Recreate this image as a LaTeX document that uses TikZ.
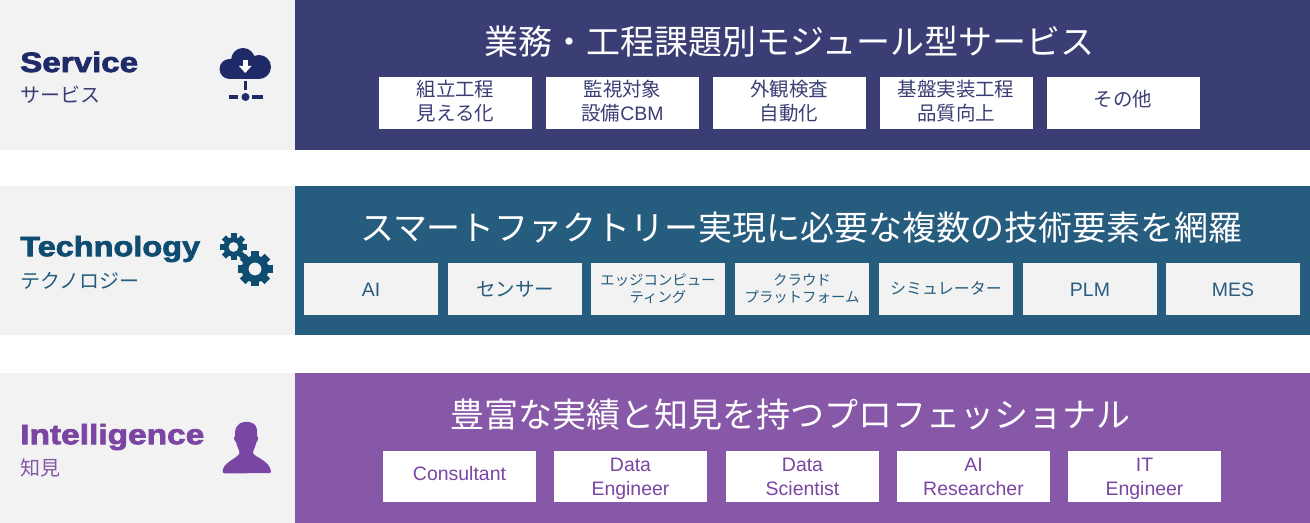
\documentclass[tikz,border=0pt]{standalone}
\usepackage{fontspec}
\setmainfont{Liberation Sans}
\newfontfamily\jp{Noto Sans CJK JP}
\newfontfamily\latin{Liberation Sans}
\newfontfamily\headfont[FakeStretch=1.16,FakeBold=2.6]{Liberation Sans Bold}
\definecolor{panelgray}{HTML}{F2F2F2}
\definecolor{svcpanel}{HTML}{3A3E74}
\definecolor{svcdark}{HTML}{1F2A68}
\definecolor{techpanel}{HTML}{265C7E}
\definecolor{techdark}{HTML}{0F4C72}
\definecolor{intpanel}{HTML}{8757A8}
\definecolor{intdark}{HTML}{7B45A3}
\begin{document}
\begin{tikzpicture}[x=0.75pt,y=-0.75pt]
\tikzstyle{side}=[rectangle,fill=panelgray,minimum width=221.25pt,inner sep=0pt,anchor=north west]
\tikzstyle{panel}=[rectangle,minimum width=761.25pt,inner sep=0pt,anchor=north west]
\tikzstyle{cell}=[rectangle,fill=white,minimum width=114.75pt,minimum height=39pt,inner sep=0pt,align=center,font=\jp\fontsize{14.6}{18}\selectfont]
\tikzstyle{scell}=[cell,text=svcpanel,text height=28pt,text depth=2pt]
\tikzstyle{tcell}=[cell,fill=panelgray,minimum width=100.5pt,text=techpanel]
\tikzstyle{tlatin}=[tcell,font=\latin\fontsize{14.6}{18}\selectfont,text height=11.5pt,text depth=0pt]
\tikzstyle{tiny}=[tcell,font=\jp\fontsize{10.8}{13}\selectfont]
\tikzstyle{icell}=[cell,text=intdark,minimum height=38.25pt,font=\latin\fontsize{14.6}{18}\selectfont,text height=29.25pt,text depth=0pt]
\tikzstyle{title}=[text=white,inner sep=0pt,font=\jp\fontsize{25.5}{30}\selectfont]
\tikzstyle{head}=[anchor=west,inner sep=0pt,font=\headfont\fontsize{21}{25}\selectfont]
\tikzstyle{sub}=[anchor=west,inner sep=0pt,font=\jp\fontsize{15}{18}\selectfont]
\useasboundingbox (0,0) rectangle (1310,523);
\node[side,minimum height=112.5pt] (s0) at (0,0) {};
\node[panel,minimum height=112.5pt,fill=svcpanel] (s) at (295,0) {};
\node[side,minimum height=111.75pt] (t0) at (0,186) {};
\node[panel,minimum height=111.75pt,fill=techpanel] (t) at (295,186) {};
\node[side,minimum height=112.5pt] (i0) at (0,373) {};
\node[panel,minimum height=112.5pt,fill=intpanel] (i) at (295,373) {};
\node[head,text=svcdark] (shead) at (20,62) {\scalebox{1.02}[1]{Service}};
\node[sub,text=svcpanel] (ssub) at (20,95) {サービス};
\node[head,text=techdark] (thead) at (20,249) {Technology};
\node[sub,text=techpanel] (tsub) at (20,281) {テクノロジー};
\node[head,text=intdark] (ihead) at (20,437) {\scalebox{1.03}[1]{Intelligence}};
\node[sub,text=intpanel] (isub) at (20,468) {知見};
\node[title] (stitle) at (789.5,42) {業務・工程課題別モジュール型サービス};
\node[title] (ttitle) at (801.5,228) {スマートファクトリー実現に必要な複数の技術要素を網羅};
\node[title] (ititle) at (790,415) {豊富な実績と知見を持つプロフェッショナル};
\node[scell] (s1) at (455.5,103) {組立工程\\見える化};
\node[scell] (s2) at (622.5,103) {監視対象\\設備{\latin CBM}};
\node[scell] (s3) at (789,103) {外観検査\\自動化};
\node[scell] (s4) at (956,103) {基盤実装工程\\品質向上};
\node[scell,text height=12pt,text depth=7pt] (s5) at (1123,103) {その他};
\node[tlatin] (t1) at (371,289) {AI};
\node[tcell] (t2) at (515,289) {センサー};
\node[tiny] (t3) at (658,289) {エッジコンピュー\\ティング};
\node[tiny] (t4) at (802,289) {クラウド\\プラットフォーム};
\node[tiny,font=\jp\fontsize{12}{14}\selectfont,text height=10pt,text depth=2.4pt] (t5) at (946,289) {シミュレーター};
\node[tlatin] (t6) at (1090,289) {PLM};
\node[tlatin] (t7) at (1233,289) {MES};
\node[icell,text height=11.5pt,text depth=5.25pt] (i1) at (459.5,476.5) {Consultant};
\node[icell] (i2) at (630.5,476.5) {Data\\Engineer};
\node[icell] (i3) at (802.5,476.5) {Data\\Scientist};
\node[icell] (i4) at (973.5,476.5) {AI\\Researcher};
\node[icell] (i5) at (1144.5,476.5) {IT\\Engineer};
\fill[svcdark] (229.5,69) circle (10);
\fill[svcdark] (243,60) circle (12);
\fill[svcdark] (259,67) circle (12);
\fill[svcdark] (230,59) rectangle (259,79);
\fill[white] (242.5,60) rectangle (248,66);
\fill[white] (239,66) -- (251.5,66) -- (245.2,73) -- cycle;
\fill[svcdark] (244,81) rectangle (247,90);
\fill[svcdark] (245.5,97) circle (4);
\fill[svcdark] (228.5,95.5) rectangle (238,99);
\fill[svcdark] (252,95.5) rectangle (262.5,99);
\foreach \a in {0,45,...,315} {
\fill[techdark,rotate around={\a:(233.5,247)}] (230.5,233.5) rectangle (236.5,241);
\fill[techdark,rotate around={\a:(255,269)}] (251,251.5) rectangle (259,260);
}
\fill[techdark,even odd rule] (233.5,247) circle (10) (233.5,247) circle (5);
\fill[techdark,even odd rule] (255,269) circle (13.5) (255,269) circle (6.5);
\fill[intdark] (235,432) .. controls (236,423) and (243,421) .. (249,422) .. controls (254,423) and (258,425) .. (257,436) .. controls (259,437) and (258,441) .. (256.5,442) .. controls (255.5,447) and (253,450) .. (253,453) .. controls (254,457) and (269,460) .. (271,471) .. controls (271,474) and (270,473) .. (268,473) -- (226,473.5) .. controls (222,473.5) and (222,471) .. (223,469) .. controls (226,461) and (238,458) .. (239.5,453) .. controls (239.5,450) and (237,447) .. (236,442) .. controls (234,441) and (233.5,437) .. (235,436) -- cycle;
\end{tikzpicture}
\end{document}
